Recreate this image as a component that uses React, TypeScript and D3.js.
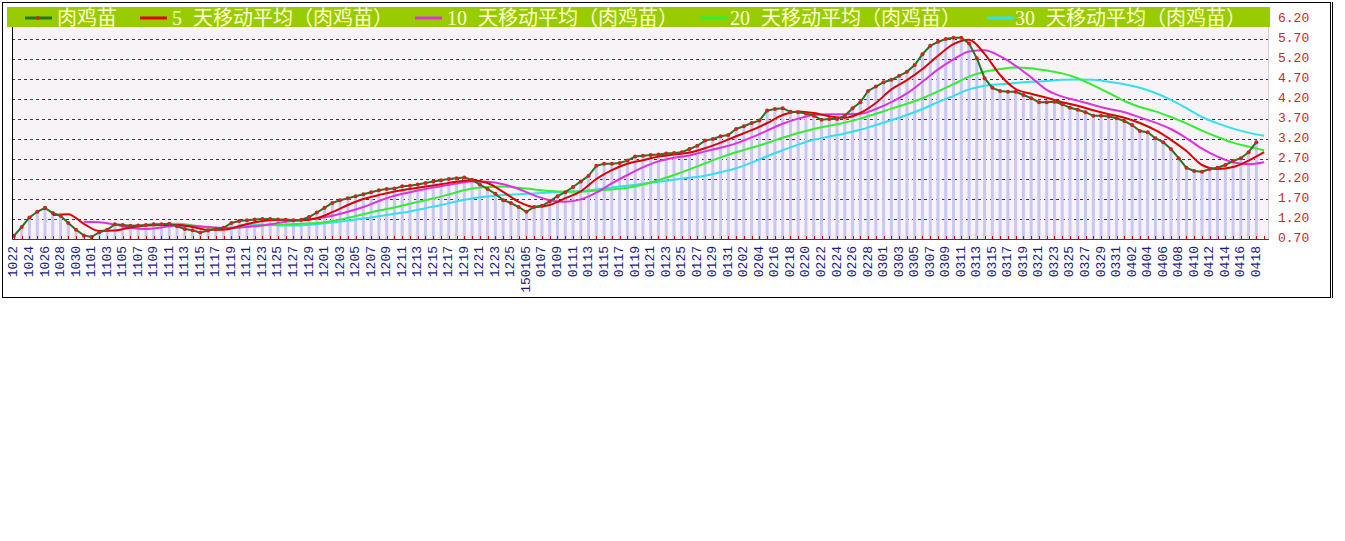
import React from 'react';
import * as d3 from 'd3';

// x labels, one for every second point
const dateLabels = [
  '1022', '1024', '1026', '1028', '1030',
  '1101', '1103', '1105', '1107', '1109', '1111', '1113', '1115', '1117', '1119', '1121', '1123', '1125', '1127', '1129',
  '1201', '1203', '1205', '1207', '1209', '1211', '1213', '1215', '1217', '1219', '1221', '1223', '1225',
  '150105',
  '0107', '0109', '0111', '0113', '0115', '0117', '0119', '0121', '0123', '0125', '0127', '0129', '0131',
  '0202', '0204',
  '0216', '0218', '0220', '0222', '0224', '0226', '0228',
  '0301', '0303', '0305', '0307', '0309', '0311', '0313', '0315', '0317', '0319', '0321', '0323', '0325', '0327', '0329', '0331',
  '0402', '0404', '0406', '0408', '0410', '0412', '0414', '0416', '0418',
];

// daily price, 肉鸡苗
const priceValues = [
  0.78, 1.0, 1.24, 1.38, 1.48, 1.35, 1.28, 1.1, 0.93, 0.79,
  0.75, 0.87, 0.93, 1.07, 1.05, 1.03, 1.04, 1.05, 1.07, 1.07,
  1.08, 1.02, 0.95, 0.92, 0.86, 0.91, 0.95, 0.98, 1.1, 1.15,
  1.17, 1.19, 1.2, 1.2, 1.19, 1.18, 1.17, 1.18, 1.25, 1.36,
  1.48, 1.6, 1.67, 1.72, 1.77, 1.82, 1.87, 1.92, 1.95, 1.96,
  2.02, 2.03, 2.06, 2.1, 2.14, 2.17, 2.2, 2.22, 2.24, 2.18,
  2.06, 1.95, 1.83, 1.67, 1.6, 1.5, 1.38, 1.5, 1.53, 1.64,
  1.77, 1.87, 2.0, 2.14, 2.28, 2.53, 2.58, 2.58, 2.6, 2.66,
  2.76, 2.78, 2.8, 2.81, 2.84, 2.85, 2.87, 2.95, 3.03, 3.16,
  3.2, 3.27, 3.3, 3.45, 3.52, 3.6, 3.66, 3.91, 3.95, 3.97,
  3.88, 3.87, 3.84, 3.78, 3.68, 3.7, 3.7, 3.78, 3.97, 4.12,
  4.4, 4.51, 4.62, 4.68, 4.78, 4.88, 5.05, 5.32, 5.53, 5.63,
  5.7, 5.73, 5.73, 5.59, 5.22, 4.72, 4.48, 4.4, 4.38, 4.38,
  4.3, 4.22, 4.12, 4.12, 4.13, 4.07, 3.98, 3.93, 3.87, 3.78,
  3.78, 3.76, 3.72, 3.65, 3.55, 3.4, 3.37, 3.22, 3.12, 2.95,
  2.72, 2.48, 2.4, 2.38, 2.45, 2.48, 2.55, 2.65, 2.72, 2.87,
  3.12,
];

// moving averages, read every second day (odd day index), first at maStart
const ma5Values = [
  1.30, 1.32, 1.08, 0.90, 0.91, 0.99, 1.04, 1.05, 1.05, 1.00,
  0.93, 0.93, 1.02, 1.12, 1.17, 1.18, 1.17, 1.22, 1.37, 1.55,
  1.70, 1.80, 1.89, 1.95, 2.01, 2.07, 2.13, 2.17, 2.10, 1.88,
  1.63, 1.50, 1.55, 1.72, 1.89, 2.20, 2.42, 2.58, 2.67, 2.76,
  2.81, 2.86, 2.97, 3.11, 3.27, 3.42, 3.60, 3.80, 3.89, 3.85,
  3.77, 3.73, 3.85, 4.10, 4.44, 4.67, 4.95, 5.28, 5.57, 5.68,
  5.33, 4.80, 4.45, 4.33, 4.23, 4.12, 4.03, 3.92, 3.82, 3.73,
  3.60, 3.42, 3.18, 2.90, 2.55, 2.45, 2.50, 2.66, 2.87,
];
const ma10Values = [
  1.13, 1.12, 1.06, 0.98, 0.95, 0.99, 1.04, 1.03, 1.00, 0.98,
  0.99, 1.02, 1.07, 1.13, 1.17, 1.21, 1.28, 1.38, 1.50, 1.65,
  1.78, 1.87, 1.95, 2.02, 2.09, 2.14, 2.13, 2.07, 1.95, 1.79,
  1.67, 1.63, 1.69, 1.86, 2.09, 2.30, 2.49, 2.64, 2.73, 2.79,
  2.89, 2.98, 3.09, 3.24, 3.41, 3.58, 3.71, 3.80, 3.82, 3.82,
  3.83, 3.95, 4.12, 4.34, 4.63, 4.94, 5.19, 5.39, 5.42, 5.27,
  5.03, 4.74, 4.43, 4.26, 4.16, 4.05, 3.95, 3.87, 3.74, 3.61,
  3.45, 3.22, 2.96, 2.76, 2.62, 2.57, 2.62,
];
const ma20Values = [
  1.06, 1.08, 1.04, 0.99, 0.97, 0.99, 1.03, 1.05, 1.06, 1.08,
  1.10, 1.15, 1.23, 1.32, 1.41, 1.49, 1.58, 1.67, 1.76, 1.87,
  1.96, 2.00, 2.01, 1.98, 1.94, 1.90, 1.88, 1.88, 1.91, 1.94,
  1.98, 2.06, 2.17, 2.30, 2.44, 2.59, 2.74, 2.87, 2.98, 3.10,
  3.23, 3.35, 3.45, 3.53, 3.61, 3.71, 3.83, 3.96, 4.08, 4.22,
  4.39, 4.57, 4.76, 4.88, 4.95, 4.99, 4.97, 4.91, 4.84, 4.72,
  4.54, 4.35, 4.15, 4.00, 3.89, 3.75, 3.59, 3.41, 3.25, 3.11,
  3.01, 2.92,
];
const ma30Values = [
  1.04, 1.06, 1.05, 1.04, 1.04, 1.07, 1.11, 1.16, 1.21, 1.27,
  1.33, 1.39, 1.47, 1.55, 1.64, 1.71, 1.76, 1.80, 1.82, 1.84,
  1.86, 1.88, 1.90, 1.94, 1.99, 2.03, 2.08, 2.13, 2.18, 2.23,
  2.28, 2.37, 2.47, 2.61, 2.77, 2.92, 3.06, 3.18, 3.26, 3.34,
  3.43, 3.55, 3.67, 3.80, 3.95, 4.12, 4.28, 4.44, 4.53, 4.57,
  4.60, 4.63, 4.65, 4.68, 4.69, 4.68, 4.63, 4.57, 4.48, 4.35,
  4.18, 3.97, 3.75, 3.59, 3.46, 3.36, 3.28,
];

const yTickValues = [0.7, 1.2, 1.7, 2.2, 2.7, 3.2, 3.7, 4.2, 4.7, 5.2, 5.7, 6.2];

const legendNames = ['肉鸡苗', '5 天移动平均（肉鸡苗）', '10 天移动平均（肉鸡苗）', '20 天移动平均（肉鸡苗）', '30 天移动平均（肉鸡苗）'];
const legendColors = ['#1f7a1f', '#dd0000', '#dd33dd', '#33ee33', '#33e0ee'];
const legendLineX = [25, 140, 415, 700, 987];
const legendTextX = [57, 172, 447, 730, 1015];

const maSeries = [
  { values: ma30Values, start: 29, color: '#33e0ee' },
  { values: ma20Values, start: 19, color: '#33ee33' },
  { values: ma10Values, start: 9, color: '#dd33dd' },
  { values: ma5Values, start: 5, color: '#dd0000' },
];

const W = 1345;
const H = 541;
const left = 12;
const right = 1268;
const top = 19;
const bottom = 239;

export default function App() {
  const x = d3.scaleLinear().domain([-0.25, 161.5]).range([left, right]);
  const y = d3.scaleLinear().domain([0.7, 6.2]).range([bottom, top]);
  const fmt = d3.format('.2f');

  const rawLine = d3.line<number>()
    .x((_, i) => x(i))
    .y(d => y(d));

  const maLine = d3.line<[number, number]>()
    .x(d => x(d[0]))
    .y(d => y(d[1]))
    .curve(d3.curveMonotoneX);

  const tickIdx = d3.range(0, 162);
  const mono = "'Liberation Mono', 'DejaVu Sans Mono', monospace";
  const legendFont = "'Liberation Serif', 'Noto Sans CJK SC', serif";

  return (
    <svg width={W} height={H} style={{ position: 'absolute', left: 0, top: 0, background: '#fff' }}>
      {/* outer frame */}
      <rect x={2.5} y={2.5} width={1328} height={295} fill="none" stroke="#000" />
      <line x1={1332.5} y1={2} x2={1332.5} y2={298} stroke="#000" />

      {/* plot background */}
      <rect x={left} y={top} width={right - left} height={bottom - top} fill="#f8f3f6" />
      <line x1={right + 0.5} y1={top} x2={right + 0.5} y2={bottom} stroke="#cfcfcf" />

      {/* grid */}
      {yTickValues.slice(1).map(v => (
        <line key={v} x1={left} x2={right} y1={Math.round(y(v)) + 0.5} y2={Math.round(y(v)) + 0.5}
          stroke="#6e1a5e" strokeDasharray="3,3" />
      ))}

      {/* bars */}
      {priceValues.map((v, i) => (
        <rect key={i} x={x(i) - 1.5} y={y(v)} width={3} height={bottom - y(v)} fill="#c8c8f2" />
      ))}

      {/* moving averages */}
      {maSeries.map((s, k) => (
        <path key={k} d={maLine(s.values.map((v, j) => [s.start + 2 * j, v] as [number, number])) || ''}
          fill="none" stroke={s.color} strokeWidth={2} />
      ))}

      {/* price line */}
      <path d={rawLine(priceValues) || ''} fill="none" stroke="#1f7a1f" strokeWidth={2} />
      {priceValues.map((v, i) => (
        <circle key={i} cx={x(i)} cy={y(v)} r={2} fill="#d42020" />
      ))}

      {/* left edge and bottom axis */}
      <line x1={left + 0.5} y1={top} x2={left + 0.5} y2={bottom} stroke="#000" />
      <line x1={left} x2={right + 1} y1={bottom + 0.5} y2={bottom + 0.5} stroke="#cc0000" />
      {tickIdx.map(i => (
        <line key={i} x1={Math.round(x(i)) + 0.5} x2={Math.round(x(i)) + 0.5} y1={bottom} y2={bottom - 3}
          stroke="#cc0000" />
      ))}

      {/* x labels */}
      {dateLabels.map((d, k) => (
        <text key={d} transform={`translate(${x(2 * k)},246) rotate(-90)`} textAnchor="end"
          dominantBaseline="central" fontFamily={mono} fontSize={13} fill="#1a1a88">{d}</text>
      ))}

      {/* right axis labels */}
      {yTickValues.map(v => (
        <text key={v} x={1278} y={y(v) - 1} dominantBaseline="central" fontFamily={mono}
          fontSize={13} fill="#c82828">{fmt(v)}</text>
      ))}

      {/* legend bar */}
      <rect x={7} y={7} width={1263} height={20} fill="#99cc00" />
      {legendNames.map((name, k) => (
        <g key={name}>
          <line x1={legendLineX[k]} x2={legendLineX[k] + 27} y1={18} y2={18}
            stroke={legendColors[k]} strokeWidth={3} />
          {k === 0 && <circle cx={legendLineX[k] + 13} cy={18} r={2} fill="#d42020" />}
          <text x={legendTextX[k]} y={17.5} dominantBaseline="central" fontFamily={legendFont}
            fontSize={20} wordSpacing={6} fill="#ffffcc">{name}</text>
        </g>
      ))}
    </svg>
  );
}
